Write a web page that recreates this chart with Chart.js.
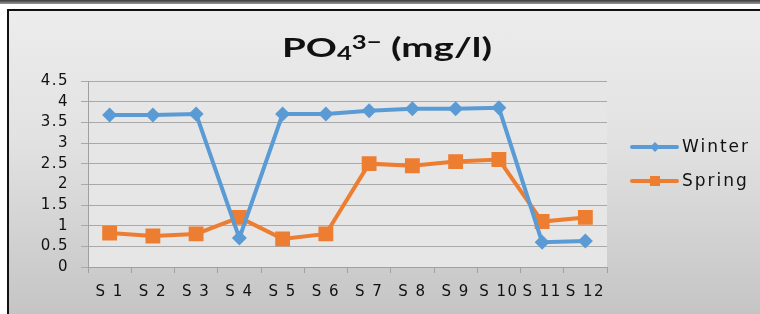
<!DOCTYPE html>
<html>
<head>
<meta charset="utf-8">
<script src="https://cdn.jsdelivr.net/npm/chart.js@4/dist/chart.umd.min.js"></script>
<style>
html,body{margin:0;padding:0;width:760px;height:314px;overflow:hidden;background:#fff;}
#topband{position:absolute;left:0;top:0;width:760px;height:4px;background:linear-gradient(#3a3a3a,#9a9a9a);}
#frame{position:absolute;left:7px;top:9px;width:760px;height:320px;border-left:2px solid #111;border-top:2px solid #111;background:linear-gradient(#ececec 0%,#e2e2e2 40%,#c2c2c2 100%);}
#wrap{position:absolute;left:0;top:0;width:760px;height:314px;}
canvas{display:block;}
</style>
</head>
<body>
<div id="topband"></div>
<div id="frame"></div>
<div id="wrap"><canvas id="c" width="760" height="314" style="width:760px;height:314px"></canvas></div>
<script>
const categories = ['S 1','S 2','S 3','S 4','S 5','S 6','S 7','S 8','S 9','S 10','S 11','S 12'];
const winter = [3.68, 3.68, 3.70, 0.70, 3.70, 3.70, 3.78, 3.83, 3.83, 3.85, 0.60, 0.63];
const spring = [0.82, 0.75, 0.80, 1.20, 0.68, 0.80, 2.50, 2.45, 2.55, 2.60, 1.10, 1.20];
const yTicks = [0, 0.5, 1, 1.5, 2, 2.5, 3, 3.5, 4, 4.5];
const titleParts = [
  {t: 'PO', size: 27, dy: 0},
  {t: '\u2084'.normalize('NFKC'), size: 18, dy: 3},
  {t: '3\u2212', size: 18, dy: -8},
  {t: ' (mg/l)', size: 27, dy: 0}
];

const TFONT = 'Lato, "DejaVu Sans", sans-serif';
const FONT = '"DejaVu Sans", Lato, sans-serif';

const plotBg = {
  id: 'plotBg',
  beforeDraw(chart) {
    const {ctx, chartArea: a} = chart;
    ctx.save();
    ctx.fillStyle = '#e6e6e6';
    ctx.fillRect(a.left, a.top, a.right - a.left, a.bottom - a.top);
    ctx.restore();
    ctx.letterSpacing = '1.5px';
  },
  beforeDatasetsDraw(chart) {
    chart.ctx.letterSpacing = '0px';
  }
};

const titlePlugin = {
  id: 'titleDraw',
  afterDraw(chart) {
    const ctx = chart.ctx;
    ctx.save();
    ctx.letterSpacing = '0px';
    ctx.fillStyle = '#111';
    ctx.textBaseline = 'alphabetic';
    ctx.textAlign = 'left';
    let w = 0;
    titleParts.forEach(p => { ctx.font = 'bold ' + p.size + 'px ' + TFONT; p.w = ctx.measureText(p.t).width; w += p.w; });
    const left = 282, right = 492, base = 57;
    const sx = (right - left) / w;
    ctx.translate(left, base);
    ctx.scale(sx, 1);
    let x = 0;
    titleParts.forEach(p => { ctx.font = 'bold ' + p.size + 'px ' + TFONT; ctx.fillText(p.t, x, p.dy); x += p.w; });
    ctx.restore();
  }
};

const customLegend = {
  id: 'customLegend',
  afterDraw(chart) {
    const ctx = chart.ctx;
    const ys = [147, 181];
    chart.data.datasets.forEach((ds, i) => {
      const y = ys[i];
      ctx.save();
      ctx.strokeStyle = ds.borderColor;
      ctx.lineWidth = 4;
      ctx.lineCap = 'round';
      ctx.beginPath();
      ctx.moveTo(632, y);
      ctx.lineTo(677, y);
      ctx.stroke();
      ctx.fillStyle = ds.backgroundColor;
      if (ds.pointStyle === 'rectRot') {
        ctx.beginPath();
        ctx.moveTo(655, y - 5); ctx.lineTo(660, y); ctx.lineTo(655, y + 5); ctx.lineTo(650, y);
        ctx.closePath(); ctx.fill();
      } else {
        ctx.fillRect(650, y - 5, 10, 10);
      }
      ctx.fillStyle = '#111';
      ctx.font = '17px ' + FONT;
      ctx.textBaseline = 'middle';
      ctx.textAlign = 'left';
      ctx.letterSpacing = '2px';
      ctx.fillText(ds.label, 682, y + 1);
      ctx.restore();
    });
  }
};

new Chart(document.getElementById('c'), {
  type: 'line',
  data: {
    labels: categories,
    datasets: [
      {
        label: 'Winter',
        data: winter,
        borderColor: '#5B9BD5',
        backgroundColor: '#5B9BD5',
        borderWidth: 4,
        pointStyle: 'rectRot',
        pointRadius: 7.5,
        pointHoverRadius: 7.5,
        pointBorderWidth: 0,
        tension: 0
      },
      {
        label: 'Spring',
        data: spring,
        borderColor: '#ED7D31',
        backgroundColor: '#ED7D31',
        borderWidth: 4,
        pointStyle: 'rect',
        pointRadius: 10.5,
        pointHoverRadius: 10.5,
        pointBorderWidth: 0,
        tension: 0
      }
    ]
  },
  options: {
    responsive: false,
    animation: false,
    devicePixelRatio: 1,
    layout: { padding: { left: 10, right: 153, top: 81, bottom: 0 } },
    plugins: {
      legend: { display: false },
      tooltip: { enabled: false },
      title: { display: false }
    },
    scales: {
      x: {
        offset: true,
        grid: {
          display: true,
          offset: true,
          drawOnChartArea: false,
          drawTicks: true,
          tickLength: 6,
          color: '#a0a0a0'
        },
        border: { display: true, color: '#a0a0a0', width: 1 },
        ticks: {
          color: '#111',
          padding: 10,
          maxRotation: 0,
          autoSkip: false,
          font: { family: FONT, size: 15 }
        },
        afterFit(scale) { scale.height = 47; }
      },
      y: {
        min: 0,
        max: 4.5,
        afterBuildTicks(scale) { scale.ticks = yTicks.map(v => ({value: v})); },
        grid: {
          color: '#a9a9a9',
          lineWidth: 1,
          tickLength: 7,
          drawTicks: true
        },
        border: { display: true, color: '#a0a0a0', width: 1 },
        ticks: {
          color: '#111',
          padding: 12,
          autoSkip: false,
          font: { family: FONT, size: 15 },
          callback: v => String(v)
        },
        afterFit(scale) { scale.width = 78; }
      }
    }
  },
  plugins: [plotBg, titlePlugin, customLegend]
});
</script>
</body>
</html>
